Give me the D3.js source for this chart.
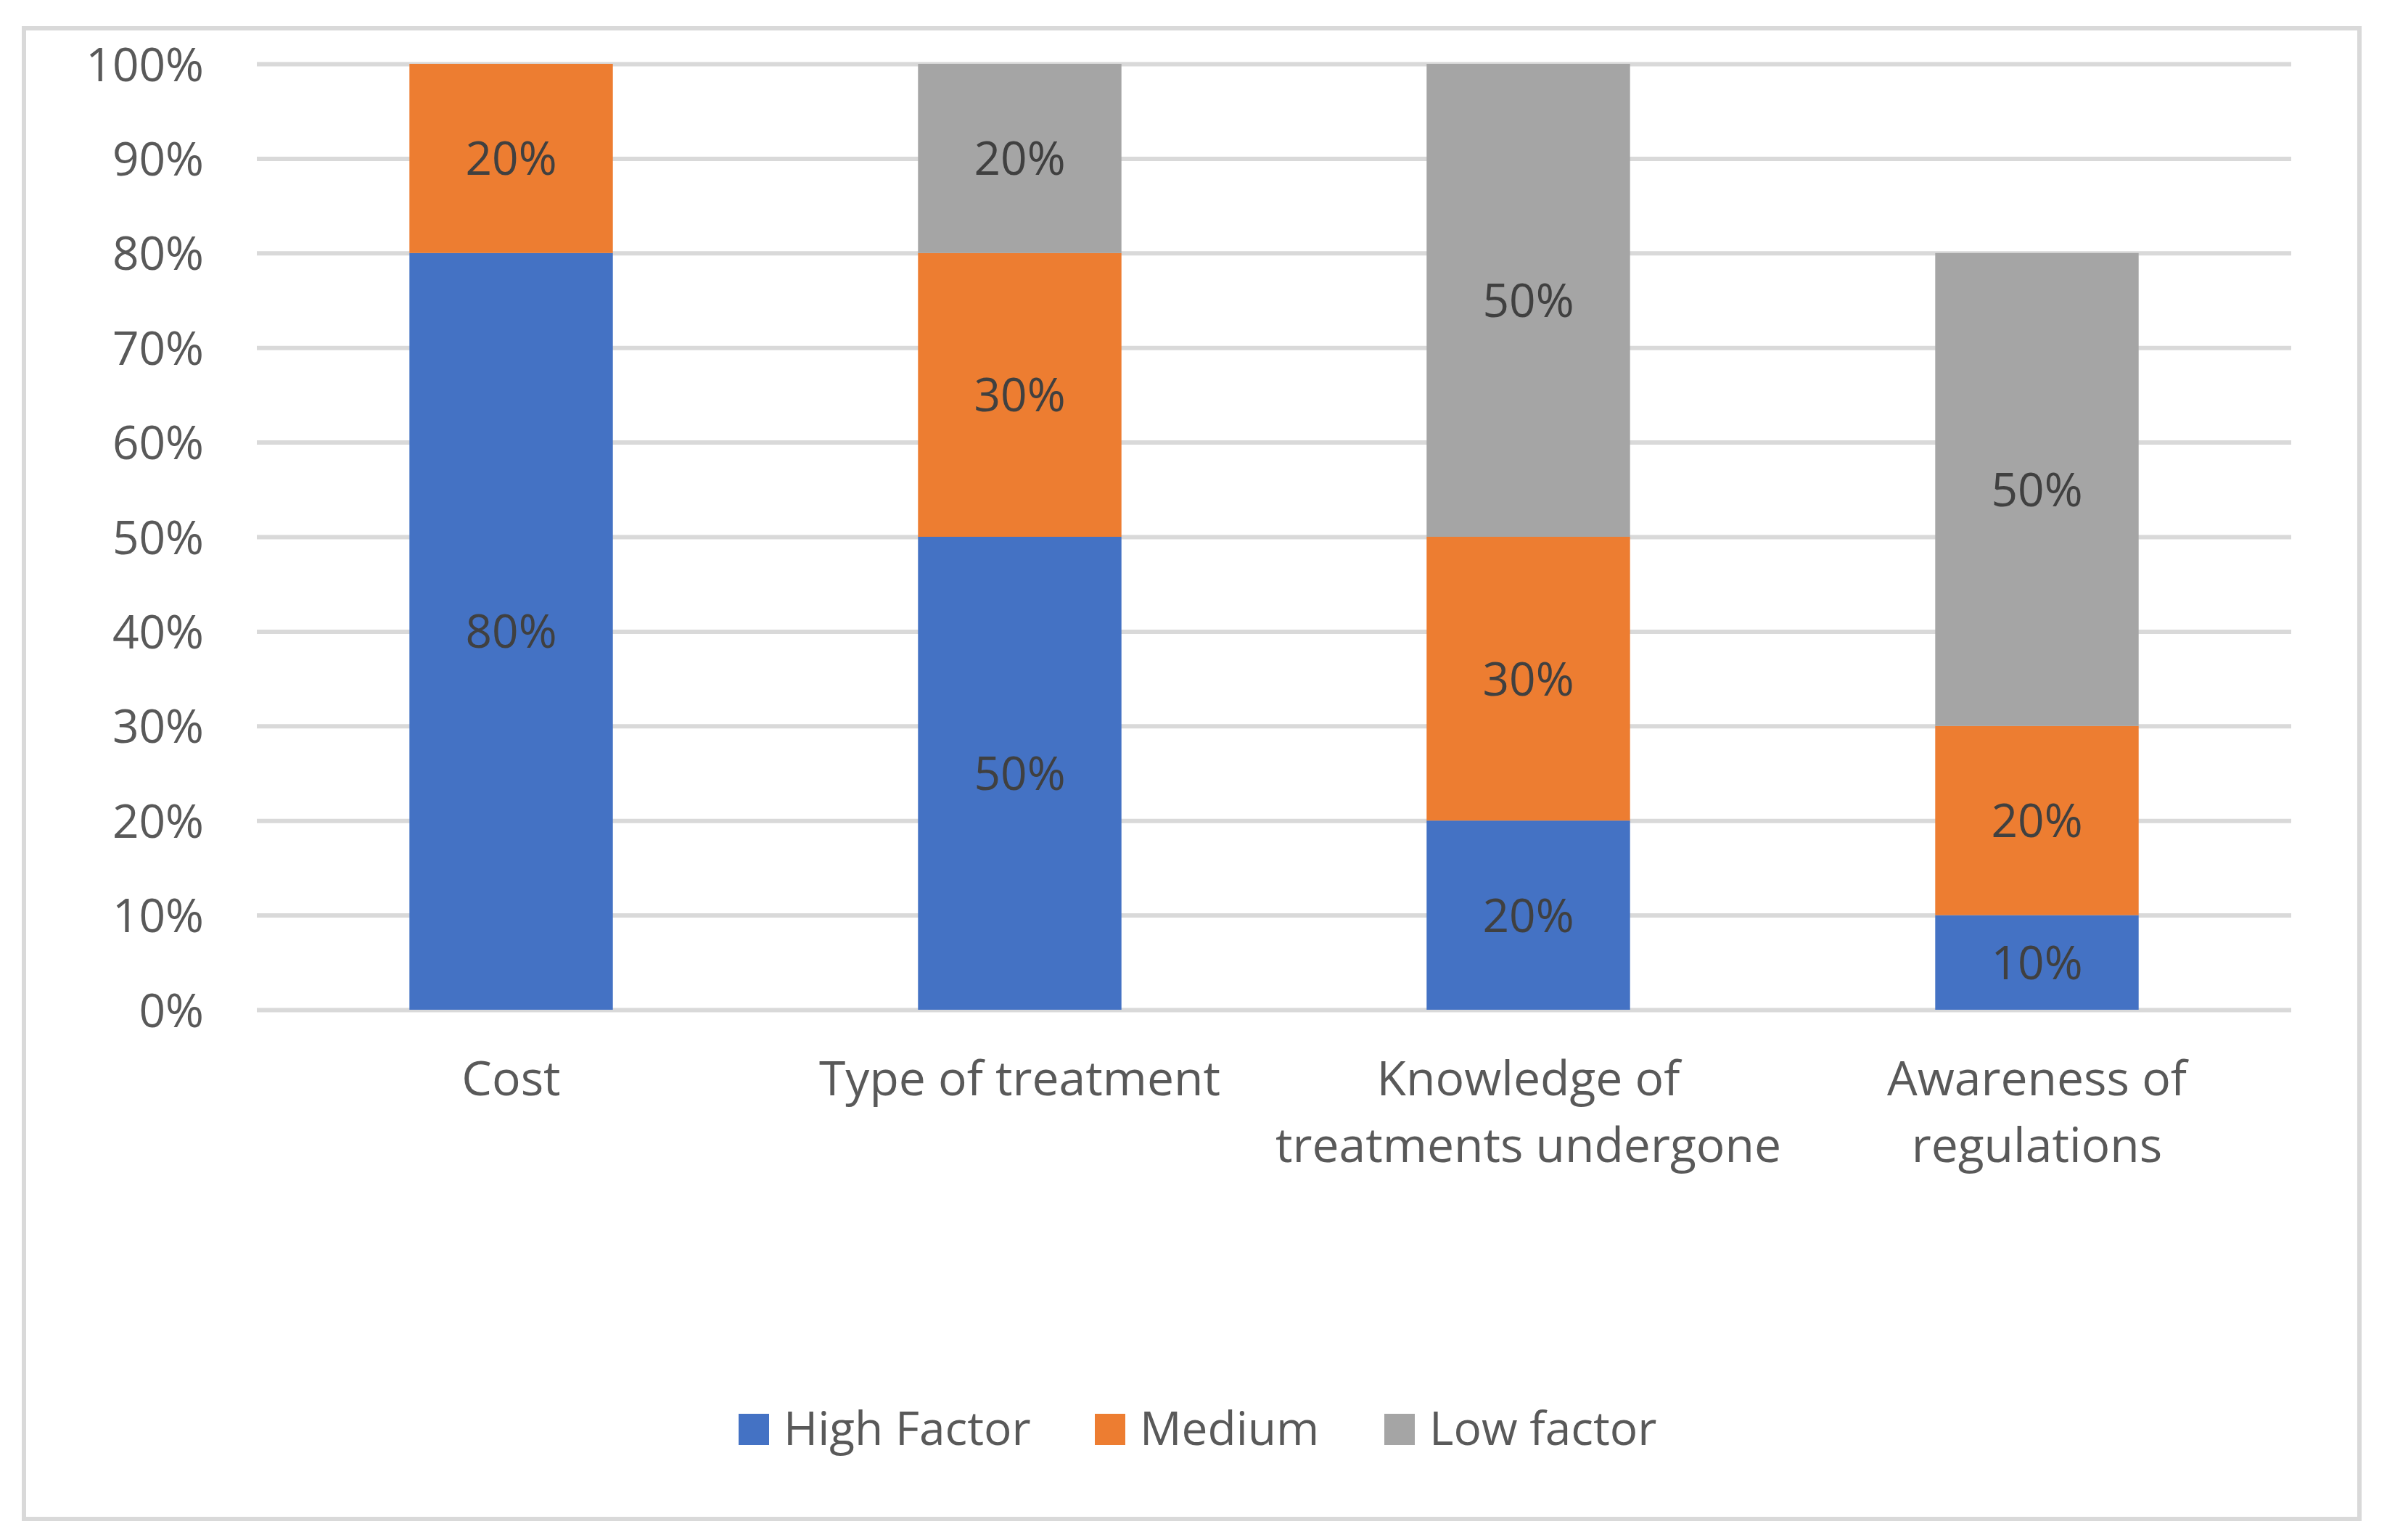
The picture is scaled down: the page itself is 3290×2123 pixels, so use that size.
<!DOCTYPE html>
<html>
<head>
<meta charset="utf-8">
<script src="https://cdn.jsdelivr.net/npm/d3@7"></script>
<style>
  html, body { margin: 0; padding: 0; background: #fff; }
  svg { display: block; }
</style>
</head>
<body>
<script>
const categories = ["Cost", "Type of treatment", "Knowledge of treatments undergone", "Awareness of regulations"];
const categoryLines = [["Cost"], ["Type of treatment"], ["Knowledge of", "treatments undergone"], ["Awareness of", "regulations"]];
const seriesNames = ["High Factor", "Medium", "Low factor"];
const highFactor = [80, 50, 20, 10];
const medium = [20, 30, 30, 20];
const lowFactor = [0, 20, 50, 50];
const yTicks = [0, 10, 20, 30, 40, 50, 60, 70, 80, 90, 100];
const colors = ["#4472C4", "#ED7D31", "#A5A5A5"];

const W = 3290, H = 2123;
const plot = { left: 354, right: 3158, top: 88, bottom: 1392 };
const font = "'Open Sans', sans-serif";

const svg = d3.select("body").append("svg").attr("width", W).attr("height", H);
svg.append("rect").attr("width", W).attr("height", H).attr("fill", "#fff");

// outer chart border
svg.append("rect").attr("x", 33).attr("y", 39).attr("width", 3219).attr("height", 2055)
  .attr("fill", "none").attr("stroke", "#D9D9D9").attr("stroke-width", 6);

const x = d3.scaleBand().domain(categories).range([plot.left, plot.right]).paddingInner(0.6).paddingOuter(0.3);
const y = d3.scaleLinear().domain([0, 100]).range([plot.bottom, plot.top]);

// gridlines via axis
const yAxis = d3.axisLeft(y).tickValues(yTicks).tickSize(-(plot.right - plot.left)).tickFormat(d => d + "%");
const gy = svg.append("g").attr("transform", `translate(${plot.left},0)`).call(yAxis);
gy.select(".domain").remove();
gy.selectAll(".tick line").attr("stroke", "#D9D9D9").attr("stroke-width", 6);
gy.selectAll(".tick text")
  .attr("x", -73).attr("dy", "0.36em")
  .attr("fill", "#595959").attr("font-family", font).attr("font-size", 64);

// stacked data
const rows = categories.map((c, i) => ({ cat: c, "High Factor": highFactor[i], "Medium": medium[i], "Low factor": lowFactor[i] }));
const stack = d3.stack().keys(seriesNames)(rows);

const layers = svg.append("g").selectAll("g").data(stack).join("g").attr("fill", (d, i) => colors[i]);
layers.selectAll("rect").data(d => d).join("rect")
  .attr("x", d => x(d.data.cat))
  .attr("width", x.bandwidth())
  .attr("y", d => y(d[1]))
  .attr("height", d => y(d[0]) - y(d[1]));

// data labels
const lbl = svg.append("g");
stack.forEach(layer => {
  layer.forEach(d => {
    const v = d[1] - d[0];
    if (v <= 0) return;
    lbl.append("text")
      .attr("x", x(d.data.cat) + x.bandwidth() / 2)
      .attr("y", y((d[0] + d[1]) / 2))
      .attr("dy", "0.36em")
      .attr("text-anchor", "middle")
      .attr("fill", "#404040").attr("font-family", font).attr("font-size", 64)
      .text(v + "%");
  });
});

// category labels
const cl = svg.append("g");
categories.forEach((c, i) => {
  const t = cl.append("text")
    .attr("text-anchor", "middle")
    .attr("fill", "#595959").attr("font-family", font).attr("font-size", 66);
  categoryLines[i].forEach((line, j) => {
    t.append("tspan").attr("x", x(c) + x.bandwidth() / 2).attr("y", 1510 + j * 92).text(line);
  });
});

// legend
const legendX = [1018, 1509, 1908];
const lg = svg.append("g");
seriesNames.forEach((s, i) => {
  lg.append("rect").attr("x", legendX[i]).attr("y", 1949).attr("width", 42).attr("height", 43).attr("fill", colors[i]);
  lg.append("text").attr("x", legendX[i] + 62).attr("y", 1992)
    .attr("fill", "#595959").attr("font-family", font).attr("font-size", 64).text(s);
});
</script>
</body>
</html>
